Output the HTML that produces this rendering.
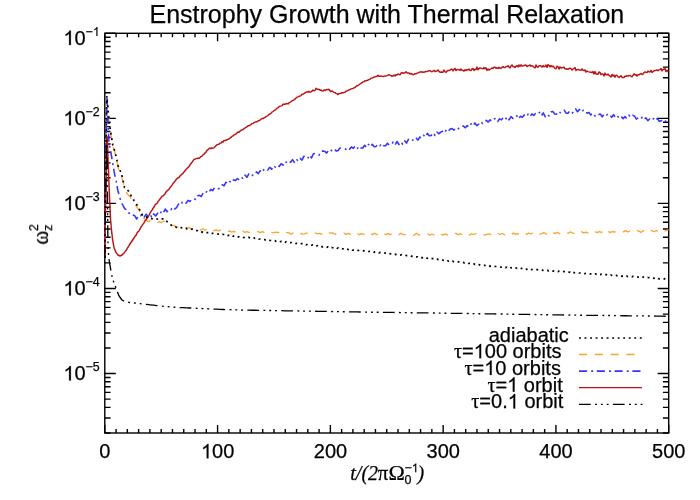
<!DOCTYPE html>
<html>
<head>
<meta charset="utf-8">
<title>Enstrophy Growth with Thermal Relaxation</title>
<style>
html, body { margin: 0; padding: 0; background: #ffffff; }
body { width: 700px; height: 500px; overflow: hidden; font-family: "Liberation Sans", sans-serif; }
svg { display: block; }
svg text { font-family: "Liberation Sans", sans-serif; fill: #000; stroke: #000; stroke-width: 0.25; }
svg .ser { font-family: "Liberation Serif", serif; }
svg .nk { font-kerning: none; }
.g1 { fill: #000; stroke: #000; stroke-width: 25; }
.ax  { fill: none; stroke: #000; stroke-width: 1.4; }
.red { fill: none; stroke: #be1212; stroke-width: 1.45; stroke-linejoin: round; }
.blu { fill: none; stroke: #3434ff; stroke-width: 1.55; stroke-linejoin: round; stroke-dasharray: 8.1 4.1 1.9 3.7; }
.ora { fill: none; stroke: #ff9f2e; stroke-width: 1.3; stroke-dasharray: 8.1 7.7; stroke-linejoin: round; }
.dot { fill: none; stroke: #000; stroke-width: 1.7; stroke-dasharray: 1.9 3.63; }
.ddd { fill: none; stroke: #000; stroke-width: 1.35; stroke-dasharray: 11.7 4.4 1.9 3.9 1.9 3.9 1.9 4.3; }
</style>
</head>
<body>
<svg width="700" height="500" viewBox="0 0 700 500">
<rect x="0" y="0" width="700" height="500" fill="#ffffff"/>
<defs><clipPath id="plot"><rect x="104.1" y="33.3" width="565.3" height="399.7"/></clipPath></defs>
<rect class="ax" x="104.80" y="33.30" width="563.90" height="399.70"/>
<path class="ax" d="M104.80 433.00 v-8.00 M104.80 33.30 v8.00 M116.08 433.00 v-4.00 M116.08 33.30 v4.00 M127.36 433.00 v-4.00 M127.36 33.30 v4.00 M138.63 433.00 v-4.00 M138.63 33.30 v4.00 M149.91 433.00 v-4.00 M149.91 33.30 v4.00 M161.19 433.00 v-4.00 M161.19 33.30 v4.00 M172.47 433.00 v-4.00 M172.47 33.30 v4.00 M183.75 433.00 v-4.00 M183.75 33.30 v4.00 M195.02 433.00 v-4.00 M195.02 33.30 v4.00 M206.30 433.00 v-4.00 M206.30 33.30 v4.00 M217.58 433.00 v-8.00 M217.58 33.30 v8.00 M228.86 433.00 v-4.00 M228.86 33.30 v4.00 M240.14 433.00 v-4.00 M240.14 33.30 v4.00 M251.41 433.00 v-4.00 M251.41 33.30 v4.00 M262.69 433.00 v-4.00 M262.69 33.30 v4.00 M273.97 433.00 v-4.00 M273.97 33.30 v4.00 M285.25 433.00 v-4.00 M285.25 33.30 v4.00 M296.53 433.00 v-4.00 M296.53 33.30 v4.00 M307.80 433.00 v-4.00 M307.80 33.30 v4.00 M319.08 433.00 v-4.00 M319.08 33.30 v4.00 M330.36 433.00 v-8.00 M330.36 33.30 v8.00 M341.64 433.00 v-4.00 M341.64 33.30 v4.00 M352.92 433.00 v-4.00 M352.92 33.30 v4.00 M364.19 433.00 v-4.00 M364.19 33.30 v4.00 M375.47 433.00 v-4.00 M375.47 33.30 v4.00 M386.75 433.00 v-4.00 M386.75 33.30 v4.00 M398.03 433.00 v-4.00 M398.03 33.30 v4.00 M409.31 433.00 v-4.00 M409.31 33.30 v4.00 M420.58 433.00 v-4.00 M420.58 33.30 v4.00 M431.86 433.00 v-4.00 M431.86 33.30 v4.00 M443.14 433.00 v-8.00 M443.14 33.30 v8.00 M454.42 433.00 v-4.00 M454.42 33.30 v4.00 M465.70 433.00 v-4.00 M465.70 33.30 v4.00 M476.97 433.00 v-4.00 M476.97 33.30 v4.00 M488.25 433.00 v-4.00 M488.25 33.30 v4.00 M499.53 433.00 v-4.00 M499.53 33.30 v4.00 M510.81 433.00 v-4.00 M510.81 33.30 v4.00 M522.09 433.00 v-4.00 M522.09 33.30 v4.00 M533.36 433.00 v-4.00 M533.36 33.30 v4.00 M544.64 433.00 v-4.00 M544.64 33.30 v4.00 M555.92 433.00 v-8.00 M555.92 33.30 v8.00 M567.20 433.00 v-4.00 M567.20 33.30 v4.00 M578.48 433.00 v-4.00 M578.48 33.30 v4.00 M589.75 433.00 v-4.00 M589.75 33.30 v4.00 M601.03 433.00 v-4.00 M601.03 33.30 v4.00 M612.31 433.00 v-4.00 M612.31 33.30 v4.00 M623.59 433.00 v-4.00 M623.59 33.30 v4.00 M634.87 433.00 v-4.00 M634.87 33.30 v4.00 M646.14 433.00 v-4.00 M646.14 33.30 v4.00 M657.42 433.00 v-4.00 M657.42 33.30 v4.00 M668.70 433.00 v-8.00 M668.70 33.30 v8.00 M104.80 433.00 h5.80 M668.70 433.00 h-5.80 M104.80 418.02 h5.80 M668.70 418.02 h-5.80 M104.80 407.39 h5.80 M668.70 407.39 h-5.80 M104.80 399.15 h5.80 M668.70 399.15 h-5.80 M104.80 392.42 h5.80 M668.70 392.42 h-5.80 M104.80 386.72 h5.80 M668.70 386.72 h-5.80 M104.80 381.79 h5.80 M668.70 381.79 h-5.80 M104.80 377.44 h5.80 M668.70 377.44 h-5.80 M104.80 373.54 h11.00 M668.70 373.54 h-11.00 M104.80 347.94 h5.80 M668.70 347.94 h-5.80 M104.80 332.96 h5.80 M668.70 332.96 h-5.80 M104.80 322.33 h5.80 M668.70 322.33 h-5.80 M104.80 314.09 h5.80 M668.70 314.09 h-5.80 M104.80 307.35 h5.80 M668.70 307.35 h-5.80 M104.80 301.66 h5.80 M668.70 301.66 h-5.80 M104.80 296.73 h5.80 M668.70 296.73 h-5.80 M104.80 292.38 h5.80 M668.70 292.38 h-5.80 M104.80 288.48 h11.00 M668.70 288.48 h-11.00 M104.80 262.88 h5.80 M668.70 262.88 h-5.80 M104.80 247.90 h5.80 M668.70 247.90 h-5.80 M104.80 237.27 h5.80 M668.70 237.27 h-5.80 M104.80 229.03 h5.80 M668.70 229.03 h-5.80 M104.80 222.29 h5.80 M668.70 222.29 h-5.80 M104.80 216.60 h5.80 M668.70 216.60 h-5.80 M104.80 211.67 h5.80 M668.70 211.67 h-5.80 M104.80 207.31 h5.80 M668.70 207.31 h-5.80 M104.80 203.42 h11.00 M668.70 203.42 h-11.00 M104.80 177.82 h5.80 M668.70 177.82 h-5.80 M104.80 162.84 h5.80 M668.70 162.84 h-5.80 M104.80 152.21 h5.80 M668.70 152.21 h-5.80 M104.80 143.97 h5.80 M668.70 143.97 h-5.80 M104.80 137.23 h5.80 M668.70 137.23 h-5.80 M104.80 131.54 h5.80 M668.70 131.54 h-5.80 M104.80 126.60 h5.80 M668.70 126.60 h-5.80 M104.80 122.25 h5.80 M668.70 122.25 h-5.80 M104.80 118.36 h11.00 M668.70 118.36 h-11.00 M104.80 92.76 h5.80 M668.70 92.76 h-5.80 M104.80 77.78 h5.80 M668.70 77.78 h-5.80 M104.80 67.15 h5.80 M668.70 67.15 h-5.80 M104.80 58.91 h5.80 M668.70 58.91 h-5.80 M104.80 52.17 h5.80 M668.70 52.17 h-5.80 M104.80 46.48 h5.80 M668.70 46.48 h-5.80 M104.80 41.54 h5.80 M668.70 41.54 h-5.80 M104.80 37.19 h5.80 M668.70 37.19 h-5.80 M104.80 33.30 h11.00 M668.70 33.30 h-11.00"/>
<g clip-path="url(#plot)">
<path class="ora" d="M104.8 258.0 L104.8 257.0 L104.8 256.0 L104.8 255.0 L104.8 254.0 L104.8 253.0 L104.9 252.0 L104.9 251.0 L104.9 250.0 L104.9 249.0 L104.9 248.0 L104.9 247.0 L104.9 246.0 L104.9 245.0 L104.9 244.0 L104.9 243.0 L104.9 242.0 L105.0 241.0 L105.0 240.0 L105.0 239.0 L105.0 238.0 L105.0 237.0 L105.0 236.0 L105.0 235.0 L105.0 234.0 L105.0 233.0 L105.0 232.0 L105.1 231.0 L105.1 230.0 L105.1 229.0 L105.1 228.0 L105.1 227.0 L105.1 226.0 L105.1 225.0 L105.1 224.0 L105.1 223.0 L105.1 222.0 L105.1 221.0 L105.2 220.0 L105.2 219.0 L105.2 218.0 L105.2 217.0 L105.2 216.0 L105.2 215.0 L105.2 214.0 L105.2 213.0 L105.2 212.0 L105.2 211.0 L105.3 210.0 L105.3 209.0 L105.3 208.0 L105.3 207.0 L105.3 206.0 L105.3 205.0 L105.3 204.0 L105.3 203.0 L105.4 202.0 L105.4 201.0 L105.4 200.0 L105.4 199.0 L105.4 198.0 L105.4 197.0 L105.4 196.0 L105.4 195.0 L105.5 194.0 L105.5 193.0 L105.5 192.0 L105.5 191.0 L105.5 190.0 L105.5 189.0 L105.5 188.0 L105.5 187.0 L105.6 186.0 L105.6 185.0 L105.6 184.0 L105.6 183.0 L105.6 182.0 L105.6 181.0 L105.6 180.0 L105.6 179.0 L105.7 178.0 L105.7 177.0 L105.7 176.0 L105.7 175.0 L105.7 174.0 L105.7 173.0 L105.7 172.0 L105.7 171.0 L105.8 170.0 L105.8 169.0 L105.8 168.0 L105.8 167.0 L105.8 166.0 L105.8 165.0 L105.8 164.0 L105.8 163.0 L105.9 162.0 L105.9 161.0 L105.9 160.0 L105.9 159.0 L105.9 158.0 L105.9 157.0 L105.9 156.0 L105.9 155.0 L106.0 154.0 L106.0 153.0 L106.0 152.0 L106.0 151.0 L106.0 150.0 L106.0 149.0 L106.0 148.0 L106.0 147.0 L106.1 146.0 L106.1 145.0 L106.1 144.0 L106.1 143.0 L106.1 142.0 L106.2 141.0 L106.2 140.0 L106.2 139.0 L106.2 138.0 L106.2 137.0 L106.2 136.0 L106.2 135.0 L106.3 134.0 L106.3 133.0 L106.3 132.0 L106.3 131.0 L106.3 130.0 L106.3 129.0 L106.4 128.0 L106.4 127.0 L106.4 126.0 L106.4 125.0 L106.4 124.0 L106.5 123.0 L106.5 122.0 L106.5 121.0 L106.5 120.0 L106.5 119.0 L106.5 118.0 L106.5 117.0 L106.6 116.0 L106.6 115.0 L106.6 114.0 L106.6 113.0 L106.6 112.0 L106.7 111.0 L106.7 110.0 L106.7 109.0 L106.7 108.0 L106.8 107.0 L106.8 106.0 L106.9 105.0 L107.0 104.0 L107.0 103.0 L107.1 102.0 L107.1 101.0 L107.2 100.0 L107.3 101.0 L107.4 102.0 L107.4 103.0 L107.5 104.0 L107.6 105.0 L107.7 106.0 L107.7 107.0 L107.8 108.0 L107.9 109.0 L108.0 110.0 L108.0 111.0 L108.1 112.0 L108.2 113.0 L108.3 114.0 L108.4 115.0 L108.5 116.0 L108.6 117.0 L108.7 118.0 L108.8 119.0 L108.9 120.0 L109.0 121.0 L109.1 122.0 L109.2 123.0 L109.3 124.0 L109.4 125.0 L109.5 126.0 L109.7 127.0 L109.8 128.0 L110.0 129.0 L110.1 130.0 L110.2 131.0 L110.4 132.0 L110.5 133.0 L110.7 134.0 L110.8 135.0 L111.0 136.0 L111.2 137.0 L111.3 138.0 L111.5 139.0 L111.7 140.0 L111.8 141.0 L112.0 142.0 L112.2 143.0 L112.3 144.0 L112.5 145.0 L112.8 146.0 L113.1 147.0 L113.4 148.0 L113.8 149.0 L114.1 150.0 L114.4 151.0 L114.7 152.0 L115.0 153.0 L115.2 154.0 L115.4 155.0 L115.7 156.0 L115.9 157.0 L116.1 158.0 L116.3 159.0 L116.6 160.0 L116.8 161.0 L117.0 162.0 L117.2 163.0 L117.4 164.0 L117.6 165.0 L117.9 166.0 L118.1 167.0 L118.3 168.0 L118.5 169.0 L119.0 169.9 L119.5 170.8 L120.0 171.6 L120.5 172.5 L120.8 173.6 L121.1 174.6 L121.4 175.7 L121.6 176.8 L121.9 177.9 L122.2 178.9 L122.5 180.0 L122.8 181.1 L123.1 182.1 L123.4 183.2 L123.6 184.3 L123.9 185.4 L124.2 186.4 L124.5 187.5 L124.9 188.5 L125.3 189.5 L125.8 190.5 L126.2 191.5 L126.6 192.5 L127.0 193.5 L127.7 194.3 L128.4 195.1 L129.1 195.9 L129.8 196.7 L130.5 197.5 L132.7 200.9 L134.9 204.3 L137.1 207.4 L139.3 210.6 L141.5 216.1 L143.7 218.2 L145.9 219.9 L148.1 221.6 L150.3 220.9 L152.5 222.5 L154.7 222.0 L156.9 222.8 L159.1 221.6 L161.3 222.5 L163.5 221.2 L165.7 221.7 L167.9 223.5 L170.1 223.6 L172.3 225.4 L174.5 225.4 L176.7 227.4 L178.9 226.7 L181.1 226.7 L183.3 226.9 L185.5 228.4 L187.7 227.3 L189.9 227.9 L192.1 229.4 L194.3 228.7 L196.5 229.6 L198.7 228.6 L200.9 230.0 L203.1 228.8 L205.3 230.2 L207.5 229.2 L209.7 230.8 L211.9 229.5 L214.1 230.8 L216.3 229.9 L218.5 230.9 L220.7 230.2 L222.9 231.2 L225.1 230.6 L227.3 231.6 L229.5 231.0 L231.7 232.1 L233.9 231.3 L236.1 232.3 L238.3 231.5 L240.5 232.5 L242.7 231.1 L244.9 232.3 L247.1 231.6 L249.3 232.5 L251.5 231.7 L253.7 232.5 L255.9 231.5 L258.1 231.7 L260.3 232.7 L262.5 231.6 L264.7 232.7 L266.9 231.5 L269.1 232.8 L271.3 232.3 L273.5 233.0 L275.7 232.1 L277.9 232.5 L280.1 232.4 L282.3 234.0 L284.5 233.4 L286.7 232.5 L288.9 232.9 L291.1 234.2 L293.3 232.8 L295.5 234.1 L297.7 233.8 L299.9 232.6 L302.1 234.1 L304.3 233.9 L306.5 233.0 L308.7 234.0 L310.9 233.1 L313.1 234.2 L315.3 233.0 L317.5 233.9 L319.7 233.3 L321.9 234.4 L324.1 233.3 L326.3 234.5 L328.5 232.8 L330.7 233.2 L332.9 233.0 L335.1 234.3 L337.3 233.3 L339.5 233.5 L341.7 234.2 L343.9 233.2 L346.1 234.3 L348.3 233.3 L350.5 234.3 L352.7 233.1 L354.9 234.7 L357.1 233.2 L359.3 234.8 L361.5 233.6 L363.7 234.3 L365.9 233.6 L368.1 234.9 L370.3 233.1 L372.5 234.6 L374.7 233.2 L376.9 234.7 L379.1 233.1 L381.3 234.7 L383.5 233.6 L385.7 234.7 L387.9 233.6 L390.1 234.6 L392.3 233.7 L394.5 234.6 L396.7 233.3 L398.9 234.6 L401.1 233.3 L403.3 234.6 L405.5 234.6 L407.7 233.7 L409.9 234.5 L412.1 234.9 L414.3 235.1 L416.5 233.3 L418.7 234.8 L420.9 235.1 L423.1 234.8 L425.3 233.7 L427.5 233.4 L429.7 235.2 L431.9 234.0 L434.1 234.8 L436.3 233.6 L438.5 235.2 L440.7 233.8 L442.9 235.2 L445.1 233.9 L447.3 234.8 L449.5 234.0 L451.7 235.1 L453.9 233.4 L456.1 233.4 L458.3 234.7 L460.5 233.7 L462.7 234.9 L464.9 233.4 L467.1 234.8 L469.3 235.1 L471.5 233.8 L473.7 234.5 L475.9 233.6 L478.1 234.6 L480.3 233.8 L482.5 234.8 L484.7 235.0 L486.9 234.4 L489.1 233.8 L491.3 234.6 L493.5 233.4 L495.7 234.6 L497.9 233.2 L500.1 234.5 L502.3 233.5 L504.5 234.8 L506.7 234.8 L508.9 233.6 L511.1 234.8 L513.3 233.1 L515.5 234.4 L517.7 233.6 L519.9 234.7 L522.1 234.4 L524.3 232.8 L526.5 234.4 L528.7 233.0 L530.9 234.0 L533.1 232.6 L535.3 234.1 L537.5 232.9 L539.7 234.0 L541.9 233.7 L544.1 232.7 L546.3 234.1 L548.5 232.3 L550.7 233.5 L552.9 232.5 L555.1 233.6 L557.3 232.2 L559.5 233.7 L561.7 232.3 L563.9 232.0 L566.1 233.3 L568.3 233.2 L570.5 231.9 L572.7 233.2 L574.9 233.6 L577.1 232.1 L579.3 233.0 L581.5 231.6 L583.7 233.0 L585.9 232.1 L588.1 233.2 L590.3 231.7 L592.5 232.6 L594.7 231.3 L596.9 232.7 L599.1 231.7 L601.3 232.4 L603.5 231.1 L605.7 232.9 L607.9 231.0 L610.1 232.6 L612.3 231.5 L614.5 232.1 L616.7 230.8 L618.9 231.3 L621.1 230.9 L623.3 231.9 L625.5 230.6 L627.7 231.9 L629.9 231.2 L632.1 232.4 L634.3 231.1 L636.5 230.5 L638.7 231.0 L640.9 232.4 L643.1 230.7 L645.3 231.7 L647.5 230.5 L649.7 231.9 L651.9 230.5 L654.1 231.7 L656.3 230.5 L658.5 231.8 L660.7 230.3 L662.9 229.8 L665.1 231.0 L667.3 230.1 L668.6 229.8"/>
<path class="blu" d="M104.8 258.0 L104.8 257.0 L104.8 256.0 L104.8 255.0 L104.8 254.0 L104.8 253.0 L104.9 252.0 L104.9 251.0 L104.9 250.0 L104.9 249.0 L104.9 248.0 L104.9 247.0 L104.9 246.0 L104.9 245.0 L104.9 244.0 L104.9 243.0 L104.9 242.0 L105.0 241.0 L105.0 240.0 L105.0 239.0 L105.0 238.0 L105.0 237.0 L105.0 236.0 L105.0 235.0 L105.0 234.0 L105.0 233.0 L105.0 232.0 L105.1 231.0 L105.1 230.0 L105.1 229.0 L105.1 228.0 L105.1 227.0 L105.1 226.0 L105.1 225.0 L105.1 224.0 L105.1 223.0 L105.1 222.0 L105.1 221.0 L105.2 220.0 L105.2 219.0 L105.2 218.0 L105.2 217.0 L105.2 216.0 L105.2 215.0 L105.2 214.0 L105.2 213.0 L105.2 212.0 L105.2 211.0 L105.3 210.0 L105.3 209.0 L105.3 208.0 L105.3 207.0 L105.3 206.0 L105.3 205.0 L105.3 204.0 L105.3 203.0 L105.4 202.0 L105.4 201.0 L105.4 200.0 L105.4 199.0 L105.4 198.0 L105.4 197.0 L105.4 196.0 L105.4 195.0 L105.5 194.0 L105.5 193.0 L105.5 192.0 L105.5 191.0 L105.5 190.0 L105.5 189.0 L105.5 188.0 L105.5 187.0 L105.6 186.0 L105.6 185.0 L105.6 184.0 L105.6 183.0 L105.6 182.0 L105.6 181.0 L105.6 180.0 L105.6 179.0 L105.7 178.0 L105.7 177.0 L105.7 176.0 L105.7 175.0 L105.7 174.0 L105.7 173.0 L105.7 172.0 L105.7 171.0 L105.8 170.0 L105.8 169.0 L105.8 168.0 L105.8 167.0 L105.8 166.0 L105.8 165.0 L105.8 164.0 L105.8 163.0 L105.9 162.0 L105.9 161.0 L105.9 160.0 L105.9 159.0 L105.9 158.0 L105.9 157.0 L105.9 156.0 L105.9 155.0 L106.0 154.0 L106.0 153.0 L106.0 152.0 L106.0 151.0 L106.0 150.0 L106.0 149.0 L106.0 148.0 L106.0 147.0 L106.1 146.0 L106.1 145.0 L106.1 144.0 L106.1 143.0 L106.1 142.0 L106.1 141.0 L106.1 140.0 L106.2 139.0 L106.2 138.0 L106.2 137.0 L106.2 136.0 L106.2 135.0 L106.2 134.0 L106.2 133.0 L106.2 132.0 L106.3 131.0 L106.3 130.0 L106.3 129.0 L106.3 128.0 L106.3 127.0 L106.3 126.0 L106.3 125.0 L106.4 124.0 L106.4 123.0 L106.4 122.0 L106.4 121.0 L106.4 120.0 L106.4 119.0 L106.4 118.0 L106.4 117.0 L106.5 116.0 L106.5 115.0 L106.5 114.0 L106.5 113.0 L106.5 112.0 L106.5 111.0 L106.5 110.0 L106.6 109.0 L106.6 108.0 L106.6 107.0 L106.6 106.0 L106.6 105.0 L106.7 104.0 L106.8 103.0 L106.8 102.0 L106.8 101.0 L106.9 100.0 L107.0 99.0 L107.0 98.0 L107.0 99.0 L107.1 100.0 L107.1 101.0 L107.2 102.0 L107.2 103.0 L107.3 104.0 L107.3 105.0 L107.3 106.0 L107.4 107.0 L107.4 108.0 L107.5 109.0 L107.5 110.0 L107.6 111.0 L107.6 112.0 L107.6 113.0 L107.7 114.0 L107.7 115.0 L107.8 116.0 L107.8 117.0 L107.9 118.0 L107.9 119.0 L107.9 120.0 L108.0 121.0 L108.0 122.0 L108.1 123.0 L108.1 124.0 L108.2 125.0 L108.2 126.0 L108.3 127.0 L108.3 128.0 L108.3 129.0 L108.4 130.0 L108.4 131.0 L108.5 132.0 L108.5 133.0 L108.6 134.0 L108.6 135.0 L108.7 136.0 L108.7 137.0 L108.8 138.0 L108.8 139.0 L108.9 140.0 L108.9 141.0 L109.0 142.0 L109.0 143.0 L109.2 144.0 L109.4 145.0 L109.6 146.0 L109.9 147.0 L110.1 148.0 L110.3 149.0 L110.5 150.0 L110.7 151.0 L110.8 152.0 L111.0 153.0 L111.2 154.0 L111.3 155.0 L111.5 156.0 L111.7 157.0 L111.8 158.0 L112.0 159.0 L112.2 160.0 L112.3 161.0 L112.5 162.0 L112.7 163.0 L112.8 164.0 L113.0 165.0 L113.2 166.1 L113.4 167.1 L113.6 168.2 L113.8 169.2 L113.9 170.3 L114.1 171.4 L114.3 172.4 L114.5 173.5 L114.7 174.6 L114.9 175.6 L115.2 176.7 L115.4 177.7 L115.6 178.8 L115.8 179.8 L116.1 180.9 L116.3 181.9 L116.5 183.0 L116.7 184.0 L116.9 185.0 L117.1 186.0 L117.2 187.0 L117.4 188.0 L117.6 189.0 L117.8 190.0 L118.0 191.0 L118.3 192.0 L118.6 193.0 L118.8 194.0 L119.1 195.0 L119.4 196.0 L119.7 197.0 L119.9 198.0 L120.2 199.0 L120.5 200.0 L120.9 200.9 L121.4 201.9 L121.8 202.8 L122.2 203.8 L122.7 204.7 L123.1 205.6 L123.6 206.6 L124.0 207.5 L124.7 208.4 L125.4 209.3 L126.1 209.5 L126.8 211.6 L127.5 211.7 L128.4 213.0 L129.2 212.9 L130.1 214.4 L131.0 215.2 L132.9 215.0 L134.8 215.8 L136.7 219.0 L138.6 215.0 L140.5 215.8 L142.4 214.0 L144.3 217.0 L146.2 214.1 L148.1 216.6 L150.0 214.0 L151.9 217.7 L153.8 213.9 L155.7 216.0 L157.6 213.3 L159.5 215.2 L161.4 211.2 L163.3 212.9 L165.2 209.0 L167.1 211.7 L169.0 208.9 L170.9 209.8 L172.8 206.9 L174.7 209.0 L176.6 207.7 L178.5 204.0 L180.4 205.7 L182.3 202.2 L184.2 201.3 L186.1 203.2 L188.0 200.4 L189.9 201.5 L191.8 199.0 L193.7 198.2 L195.6 199.5 L197.5 195.9 L199.4 195.3 L201.3 196.5 L203.2 192.8 L205.1 193.9 L207.0 191.1 L208.9 192.5 L210.8 189.3 L212.7 190.7 L214.6 187.6 L216.5 187.3 L218.4 188.8 L220.3 188.0 L222.2 184.8 L224.1 185.8 L226.0 182.2 L227.9 184.2 L229.8 181.5 L231.7 182.7 L233.6 179.7 L235.5 180.6 L237.4 178.5 L239.3 179.9 L241.2 177.1 L243.1 178.8 L245.0 175.0 L246.9 177.3 L248.8 173.9 L250.7 172.6 L252.6 175.5 L254.5 175.0 L256.4 171.9 L258.3 173.6 L260.2 170.8 L262.1 172.9 L264.0 169.5 L265.9 168.7 L267.8 170.1 L269.7 167.3 L271.6 169.3 L273.5 165.3 L275.4 167.3 L277.3 165.1 L279.2 166.5 L281.1 163.7 L283.0 165.2 L284.9 161.1 L286.8 162.5 L288.7 160.8 L290.6 162.3 L292.5 159.6 L294.4 162.5 L296.3 159.0 L298.2 161.2 L300.1 158.4 L302.0 160.1 L303.9 156.2 L305.8 158.6 L307.7 158.5 L309.6 155.0 L311.5 158.0 L313.4 153.8 L315.3 153.5 L317.2 153.5 L319.1 155.1 L321.0 151.3 L322.9 150.9 L324.8 151.4 L326.7 153.1 L328.6 150.1 L330.5 151.7 L332.4 149.3 L334.3 148.7 L336.2 151.1 L338.1 150.5 L340.0 148.0 L341.9 148.2 L343.8 148.3 L345.7 149.3 L347.6 147.6 L349.5 149.2 L351.4 146.9 L353.3 148.3 L355.2 146.2 L357.1 149.1 L359.0 146.0 L360.9 147.9 L362.8 148.0 L364.7 145.2 L366.6 147.9 L368.5 144.4 L370.4 146.9 L372.3 144.3 L374.2 146.7 L376.1 146.4 L378.0 143.9 L379.9 145.8 L381.8 143.5 L383.7 145.8 L385.6 145.7 L387.5 143.2 L389.4 145.4 L391.3 144.8 L393.2 141.9 L395.1 144.8 L397.0 141.5 L398.9 144.5 L400.8 141.5 L402.7 144.2 L404.6 140.7 L406.5 143.1 L408.4 139.4 L410.3 139.6 L412.2 141.3 L414.1 137.5 L416.0 137.9 L417.9 140.1 L419.8 137.0 L421.7 138.4 L423.6 135.2 L425.5 137.1 L427.4 133.4 L429.3 135.8 L431.2 135.6 L433.1 132.5 L435.0 135.5 L436.9 132.0 L438.8 133.8 L440.7 132.1 L442.6 131.2 L444.5 133.3 L446.4 129.5 L448.3 131.3 L450.2 129.0 L452.1 128.6 L454.0 130.1 L455.9 127.9 L457.8 129.4 L459.7 127.2 L461.6 126.2 L463.5 126.1 L465.4 127.8 L467.3 125.6 L469.2 127.5 L471.1 123.8 L473.0 125.8 L474.9 123.0 L476.8 125.6 L478.7 124.1 L480.6 121.2 L482.5 123.4 L484.4 121.2 L486.3 120.4 L488.2 122.1 L490.1 119.8 L492.0 121.5 L493.9 118.9 L495.8 118.5 L497.7 121.6 L499.6 118.8 L501.5 119.9 L503.4 117.4 L505.3 119.6 L507.2 116.7 L509.1 119.9 L511.0 116.6 L512.9 118.4 L514.8 118.3 L516.7 115.6 L518.6 119.0 L520.5 116.2 L522.4 117.3 L524.3 115.1 L526.2 117.1 L528.1 114.1 L530.0 116.7 L531.9 113.8 L533.8 115.5 L535.7 113.1 L537.6 114.5 L539.5 112.4 L541.4 115.9 L543.3 112.8 L545.2 116.7 L547.1 114.0 L549.0 115.9 L550.9 111.9 L552.8 111.4 L554.7 114.0 L556.6 114.2 L558.5 111.1 L560.4 112.8 L562.3 110.4 L564.2 110.2 L566.1 113.2 L568.0 113.2 L569.9 110.9 L571.8 113.4 L573.7 112.0 L575.6 108.8 L577.5 111.8 L579.4 109.4 L581.3 112.4 L583.2 110.2 L585.1 110.1 L587.0 113.2 L588.9 112.4 L590.8 115.0 L592.7 112.8 L594.6 115.8 L596.5 116.7 L598.4 114.8 L600.3 114.0 L602.2 116.9 L604.1 114.1 L606.0 116.0 L607.9 113.7 L609.8 114.7 L611.7 117.3 L613.6 114.6 L615.5 118.0 L617.4 115.9 L619.3 118.1 L621.2 116.4 L623.1 118.7 L625.0 116.6 L626.9 118.6 L628.8 115.1 L630.7 117.2 L632.6 115.2 L634.5 116.1 L636.4 119.2 L638.3 117.6 L640.2 119.3 L642.1 117.3 L644.0 119.8 L645.9 117.7 L647.8 120.6 L649.7 119.0 L651.6 120.8 L653.5 118.6 L655.4 120.7 L657.3 118.4 L659.2 121.4 L661.1 120.8 L663.0 119.3 L664.9 121.8 L666.8 119.8 L668.6 121.6"/>
<path class="red" d="M104.8 258.0 L104.8 257.0 L104.8 256.0 L104.8 255.0 L104.8 254.0 L104.9 253.0 L104.9 252.0 L104.9 251.0 L104.9 250.0 L104.9 249.0 L104.9 248.0 L104.9 247.0 L104.9 246.0 L104.9 245.0 L104.9 244.0 L105.0 243.0 L105.0 242.0 L105.0 241.0 L105.0 240.0 L105.0 239.0 L105.0 238.0 L105.0 237.0 L105.0 236.0 L105.0 235.0 L105.1 234.0 L105.1 233.0 L105.1 232.0 L105.1 231.0 L105.1 230.0 L105.1 229.0 L105.1 228.0 L105.1 227.0 L105.1 226.0 L105.1 225.0 L105.2 224.0 L105.2 223.0 L105.2 222.0 L105.2 221.0 L105.2 220.0 L105.2 219.0 L105.2 218.0 L105.3 217.0 L105.3 216.0 L105.3 215.0 L105.3 214.0 L105.4 213.0 L105.4 212.0 L105.4 211.0 L105.4 210.0 L105.4 209.0 L105.5 208.0 L105.5 207.0 L105.5 206.0 L105.5 205.0 L105.6 204.0 L105.6 203.0 L105.6 202.0 L105.6 201.0 L105.6 200.0 L105.7 199.0 L105.7 198.0 L105.7 197.0 L105.7 196.0 L105.8 195.0 L105.8 194.0 L105.8 193.0 L105.8 192.0 L105.8 191.0 L105.9 190.0 L105.9 189.0 L105.9 188.0 L105.9 187.0 L106.0 186.0 L106.0 185.0 L106.0 184.0 L106.0 183.0 L106.0 182.0 L106.1 181.0 L106.1 180.0 L106.1 179.0 L106.1 178.0 L106.2 177.0 L106.2 176.0 L106.2 175.0 L106.2 174.0 L106.2 173.0 L106.3 172.0 L106.3 171.0 L106.3 170.0 L106.3 169.0 L106.3 168.0 L106.3 167.0 L106.4 166.0 L106.4 165.0 L106.4 164.0 L106.4 163.0 L106.4 162.0 L106.5 161.0 L106.5 160.0 L106.5 159.0 L106.5 158.0 L106.5 157.0 L106.6 156.0 L106.6 155.0 L106.6 154.0 L106.6 153.0 L106.6 152.0 L106.6 151.0 L106.7 150.0 L106.7 149.0 L106.7 148.0 L106.7 147.0 L106.7 146.0 L106.8 145.0 L106.8 144.0 L106.8 143.0 L106.8 142.0 L106.8 141.0 L106.8 140.0 L106.9 139.0 L106.9 138.0 L106.9 137.0 L107.3 138.0 L107.3 139.0 L107.4 140.0 L107.4 141.0 L107.5 142.0 L107.5 143.0 L107.6 144.0 L107.6 145.0 L107.7 146.0 L107.7 147.0 L107.7 148.0 L107.7 149.0 L107.8 150.0 L107.8 151.0 L107.8 152.0 L107.8 153.0 L107.9 154.0 L107.9 155.0 L107.9 156.0 L107.9 157.0 L108.0 158.0 L108.0 159.0 L108.0 160.0 L108.0 161.0 L108.1 162.0 L108.2 163.0 L108.2 164.0 L108.2 165.0 L108.3 166.0 L108.3 167.0 L108.4 168.0 L108.5 169.0 L108.5 170.0 L108.5 171.0 L108.6 172.0 L108.6 173.0 L108.6 174.0 L108.7 175.0 L108.7 176.0 L108.7 177.0 L108.8 178.0 L108.8 179.0 L108.8 180.0 L108.9 181.0 L108.9 182.0 L109.0 183.0 L109.0 184.0 L109.0 185.0 L109.1 186.0 L109.1 187.0 L109.1 188.0 L109.2 189.0 L109.2 190.0 L109.2 191.0 L109.3 192.0 L109.3 193.0 L109.4 194.0 L109.4 195.0 L109.5 196.0 L109.5 197.0 L109.6 198.0 L109.6 199.0 L109.6 200.0 L109.7 201.0 L109.7 202.0 L109.8 203.0 L109.8 204.0 L109.9 205.0 L109.9 206.0 L110.0 207.0 L110.0 208.0 L110.0 209.0 L110.1 210.0 L110.2 211.0 L110.2 212.0 L110.2 213.0 L110.3 214.0 L110.3 215.0 L110.4 216.0 L110.4 217.0 L110.5 218.0 L110.5 219.0 L110.6 220.0 L110.7 221.0 L110.8 222.0 L110.9 223.0 L111.0 224.0 L111.0 225.0 L111.1 226.0 L111.2 227.0 L111.3 228.0 L111.4 229.0 L111.5 230.0 L111.6 231.0 L111.7 232.0 L111.8 233.0 L111.9 234.0 L112.1 235.0 L112.2 236.0 L112.3 237.0 L112.4 238.0 L112.5 239.0 L112.7 240.1 L112.9 241.1 L113.1 242.2 L113.2 243.2 L113.4 244.3 L113.6 245.4 L113.8 246.4 L114.0 247.5 L114.4 248.5 L114.8 249.5 L115.2 250.5 L115.6 251.5 L116.0 252.5 L116.7 253.3 L117.3 254.2 L118.0 255.0 L119.0 255.5 L120.0 256.0 L121.0 255.5 L122.0 255.0 L123.0 254.0 L124.0 253.0 L124.7 252.2 L125.3 251.3 L126.0 250.5 L126.6 249.6 L127.1 248.6 L127.7 247.7 L128.3 246.8 L128.9 245.9 L129.4 244.9 L130.0 244.0 L131.0 242.5 L132.0 241.0 L133.0 239.5 L134.0 238.0 L135.0 236.1 L136.0 235.4 L137.0 233.0 L138.0 231.8 L139.0 231.0 L140.0 229.0 L141.0 227.1 L142.0 225.6 L143.0 224.1 L144.0 222.9 L145.0 220.8 L146.0 220.0 L147.0 217.9 L148.0 216.9 L149.0 215.3 L150.0 213.2 L151.0 211.5 L152.0 210.1 L153.0 208.2 L154.0 207.1 L155.0 205.2 L156.0 203.8 L157.0 203.5 L158.0 201.5 L159.0 200.4 L160.0 199.0 L161.0 197.8 L162.0 196.3 L163.0 196.0 L164.0 195.0 L165.0 193.9 L166.0 191.9 L167.0 190.9 L168.0 190.1 L169.0 189.3 L170.0 187.5 L171.0 186.4 L172.0 185.1 L173.0 183.6 L174.0 182.5 L175.0 181.1 L176.0 179.8 L177.0 178.6 L178.0 177.9 L179.0 177.5 L180.0 176.0 L181.0 175.1 L182.0 174.1 L183.0 173.4 L184.0 172.0 L185.0 170.7 L186.0 169.6 L187.0 168.4 L188.0 167.6 L189.0 166.5 L190.0 164.9 L191.0 163.5 L192.0 162.3 L193.0 160.9 L194.0 159.5 L195.0 159.1 L196.0 158.5 L197.0 158.6 L198.0 158.1 L199.0 158.3 L200.0 157.6 L201.0 156.6 L202.0 156.1 L203.0 154.9 L204.0 154.2 L205.0 152.9 L206.0 152.1 L207.0 150.4 L208.0 149.6 L209.0 148.7 L210.0 148.0 L211.0 148.7 L212.0 147.8 L213.0 148.2 L214.0 147.8 L215.0 146.8 L216.0 145.7 L217.0 144.7 L218.0 144.4 L219.0 144.2 L220.0 143.1 L221.0 143.1 L222.0 141.8 L223.0 142.0 L224.0 140.5 L225.0 140.4 L226.0 140.4 L227.0 139.7 L228.0 139.4 L229.0 138.8 L230.0 138.2 L231.0 137.4 L232.0 136.3 L233.0 135.9 L234.0 134.9 L235.0 134.6 L236.0 133.9 L237.0 132.9 L238.0 132.0 L239.0 132.2 L240.0 131.3 L241.0 130.4 L242.0 129.8 L243.0 129.6 L244.0 128.7 L245.0 128.0 L246.0 127.4 L247.0 126.7 L248.0 125.8 L249.0 125.8 L250.0 125.1 L251.0 124.6 L252.0 123.6 L253.0 123.4 L254.0 122.7 L255.0 122.2 L256.0 121.8 L257.0 121.8 L258.0 121.0 L259.0 120.5 L260.0 120.1 L261.0 119.3 L262.0 118.5 L263.0 118.5 L264.0 118.0 L265.0 117.4 L266.0 116.6 L267.0 116.1 L268.0 115.5 L269.0 114.5 L270.0 114.0 L271.0 113.2 L272.0 112.1 L273.0 111.5 L274.0 110.7 L275.0 110.2 L276.0 109.4 L277.0 108.2 L278.0 107.8 L279.0 106.7 L280.0 106.1 L281.0 105.9 L282.0 105.6 L283.0 104.3 L284.0 104.2 L285.0 104.3 L286.0 103.7 L287.0 103.8 L288.0 103.9 L289.0 102.8 L290.0 102.3 L291.0 101.7 L292.0 100.8 L293.0 100.4 L294.0 99.8 L295.0 99.2 L296.0 98.0 L297.0 97.2 L298.0 96.8 L299.0 96.3 L300.0 96.0 L301.0 95.6 L302.0 94.3 L303.0 94.2 L304.0 93.6 L305.0 92.8 L306.0 92.2 L307.0 91.8 L308.0 92.1 L309.0 91.4 L310.0 92.2 L311.0 91.9 L312.0 91.2 L313.0 90.1 L314.0 90.8 L315.0 90.3 L316.0 88.3 L317.0 89.2 L318.0 89.1 L319.0 89.4 L320.0 90.3 L321.0 90.0 L322.0 90.9 L323.0 91.1 L324.0 89.9 L325.0 90.5 L326.0 90.0 L327.0 89.4 L328.0 89.8 L329.0 89.2 L330.0 90.9 L331.0 91.6 L332.0 90.9 L333.0 91.8 L334.0 92.4 L335.0 92.6 L336.0 93.3 L337.0 93.7 L338.0 94.6 L339.0 93.6 L340.0 93.5 L341.0 93.4 L342.0 92.6 L343.0 92.8 L344.0 92.4 L345.0 92.2 L346.0 91.2 L347.0 90.8 L348.0 90.5 L349.0 89.9 L350.0 89.5 L351.0 88.9 L352.0 88.7 L353.0 88.3 L354.0 87.8 L355.0 87.5 L356.0 86.4 L357.0 85.8 L358.0 85.5 L359.0 84.8 L360.0 84.0 L361.0 83.4 L362.0 82.7 L363.0 81.9 L364.0 81.8 L365.0 80.8 L366.0 80.9 L367.0 80.3 L368.0 80.2 L369.0 79.5 L370.0 79.4 L371.0 78.1 L372.0 78.0 L373.0 77.7 L374.0 77.0 L375.0 77.0 L376.0 76.4 L377.0 76.5 L378.0 75.2 L379.0 76.3 L380.0 76.3 L381.0 75.9 L382.0 76.1 L383.0 76.6 L384.0 76.3 L385.0 75.9 L386.0 76.1 L387.0 75.7 L388.0 75.2 L389.0 74.5 L390.0 75.3 L391.0 75.7 L392.0 76.4 L393.0 76.0 L394.0 75.1 L395.0 76.1 L396.0 74.6 L397.0 75.0 L398.0 74.0 L399.0 74.3 L400.0 74.8 L401.0 73.2 L402.0 72.6 L403.0 73.3 L404.0 73.0 L405.0 72.8 L406.0 71.7 L407.0 72.9 L408.0 72.9 L409.0 72.9 L410.0 74.0 L411.0 73.5 L412.0 74.0 L413.0 74.7 L414.0 74.4 L415.0 73.7 L416.0 73.8 L417.0 73.2 L418.0 72.9 L419.0 72.5 L420.0 71.9 L421.0 72.0 L422.0 71.8 L423.0 72.5 L424.0 71.9 L425.0 71.9 L426.0 71.5 L427.0 71.6 L428.0 71.1 L429.0 70.8 L430.0 70.6 L431.0 71.3 L432.0 71.8 L433.0 71.0 L434.0 70.3 L435.0 71.7 L436.0 71.0 L437.0 71.0 L438.0 69.9 L439.0 71.4 L440.0 72.2 L441.0 72.0 L442.0 72.2 L443.0 72.3 L444.0 70.1 L445.0 71.4 L446.0 72.4 L447.0 71.1 L448.0 70.4 L449.0 70.6 L450.0 70.1 L451.0 69.2 L452.0 69.2 L453.0 71.0 L454.0 69.3 L455.0 68.4 L456.0 70.6 L457.0 69.7 L458.0 69.4 L459.0 69.7 L460.0 70.3 L461.0 69.0 L462.0 70.3 L463.0 70.5 L464.0 71.0 L465.0 69.8 L466.0 70.6 L467.0 69.6 L468.0 70.1 L469.0 69.0 L470.0 70.4 L471.0 70.6 L472.0 69.0 L473.0 68.5 L474.0 70.5 L475.0 69.3 L476.0 69.7 L477.0 67.1 L478.0 69.7 L479.0 68.6 L480.0 67.9 L481.0 68.1 L482.0 68.6 L483.0 68.9 L484.0 67.5 L485.0 68.7 L486.0 67.8 L487.0 70.4 L488.0 68.9 L489.0 70.1 L490.0 69.2 L491.0 68.8 L492.0 68.0 L493.0 68.4 L494.0 67.2 L495.0 67.1 L496.0 68.4 L497.0 67.7 L498.0 68.5 L499.0 67.3 L500.0 68.3 L501.0 68.3 L502.0 67.4 L503.0 66.6 L504.0 67.5 L505.0 67.6 L506.0 66.4 L507.0 66.6 L508.0 65.8 L509.0 67.1 L510.0 67.9 L511.0 65.9 L512.0 64.9 L513.0 66.6 L514.0 66.8 L515.0 67.5 L516.0 66.2 L517.0 65.7 L518.0 66.9 L519.0 64.9 L520.0 66.4 L521.0 64.8 L522.0 65.9 L523.0 65.9 L524.0 65.7 L525.0 65.0 L526.0 65.2 L527.0 66.6 L528.0 65.7 L529.0 65.7 L530.0 64.9 L531.0 66.2 L532.0 65.6 L533.0 66.1 L534.0 67.4 L535.0 67.9 L536.0 64.9 L537.0 67.0 L538.0 67.2 L539.0 65.8 L540.0 65.8 L541.0 66.0 L542.0 67.1 L543.0 65.6 L544.0 66.7 L545.0 66.4 L546.0 65.0 L547.0 67.4 L548.0 64.6 L549.0 65.5 L550.0 66.9 L551.0 65.4 L552.0 66.8 L553.0 66.0 L554.0 67.2 L555.0 68.4 L556.0 68.8 L557.0 66.3 L558.0 66.6 L559.0 69.1 L560.0 66.9 L561.0 68.1 L562.0 67.7 L563.0 67.5 L564.0 67.1 L565.0 68.8 L566.0 69.0 L567.0 68.8 L568.0 69.3 L569.0 68.6 L570.0 68.0 L571.0 68.6 L572.0 70.1 L573.0 69.0 L574.0 68.3 L575.0 67.7 L576.0 70.6 L577.0 69.6 L578.0 69.4 L579.0 70.0 L580.0 70.1 L581.0 70.2 L582.0 68.9 L583.0 70.2 L584.0 70.5 L585.0 70.0 L586.0 72.1 L587.0 71.0 L588.0 71.6 L589.0 71.9 L590.0 72.1 L591.0 72.3 L592.0 72.6 L593.0 71.6 L594.0 74.0 L595.0 71.6 L596.0 74.1 L597.0 74.0 L598.0 74.2 L599.0 72.0 L600.0 72.4 L601.0 74.6 L602.0 74.0 L603.0 74.0 L604.0 76.0 L605.0 73.1 L606.0 74.8 L607.0 74.9 L608.0 74.1 L609.0 75.3 L610.0 76.0 L611.0 76.9 L612.0 74.4 L613.0 76.1 L614.0 75.1 L615.0 77.2 L616.0 75.4 L617.0 75.3 L618.0 76.8 L619.0 77.4 L620.0 76.5 L621.0 75.7 L622.0 77.4 L623.0 77.4 L624.0 77.5 L625.0 76.1 L626.0 76.3 L627.0 75.6 L628.0 76.1 L629.0 75.6 L630.0 75.4 L631.0 76.2 L632.0 76.8 L633.0 75.3 L634.0 73.8 L635.0 75.1 L636.0 74.6 L637.0 76.0 L638.0 74.7 L639.0 74.9 L640.0 74.2 L641.0 73.6 L642.0 74.6 L643.0 74.1 L644.0 72.6 L645.0 71.9 L646.0 72.5 L647.0 72.5 L648.0 71.1 L649.0 71.9 L650.0 72.0 L651.0 70.3 L652.0 72.4 L653.0 71.6 L654.0 70.7 L655.0 70.5 L656.0 70.4 L657.0 70.0 L658.0 70.7 L659.0 69.9 L660.0 69.6 L661.0 68.6 L662.0 70.9 L663.0 69.3 L664.0 69.3 L665.0 68.5 L666.0 71.6 L667.0 70.2 L668.0 71.7 L668.6 71.9"/>
<path class="ddd" d="M104.8 258.0 L104.8 254.8 L104.9 251.7 L104.9 248.5 L104.9 245.3 L105.0 242.2 L105.0 239.0 L105.0 235.8 L105.1 232.7 L105.1 229.5 L105.1 226.3 L105.2 223.2 L105.2 220.0 L105.3 217.0 L105.3 214.0 L105.4 211.0 L105.4 208.0 L105.5 205.0 L105.5 202.0 L105.6 199.0 L105.6 196.0 L105.7 193.0 L105.7 190.0 L105.8 187.0 L105.8 184.0 L105.9 181.0 L105.9 178.0 L106.0 175.0 L106.1 171.8 L106.1 168.6 L106.2 165.5 L106.2 162.3 L106.3 159.1 L106.3 155.9 L106.4 152.7 L106.4 149.5 L106.5 146.4 L106.5 143.2 L106.6 140.0 L107.0 142.0 L107.0 145.0 L107.0 148.0 L107.1 151.0 L107.1 154.0 L107.1 157.0 L107.2 160.0 L107.2 163.0 L107.2 166.0 L107.2 169.0 L107.2 172.0 L107.3 175.0 L107.3 178.0 L107.3 181.0 L107.4 184.0 L107.4 187.0 L107.4 190.0 L107.4 193.1 L107.5 196.2 L107.5 199.2 L107.5 202.3 L107.6 205.4 L107.6 208.5 L107.6 211.5 L107.6 214.6 L107.7 217.7 L107.7 220.8 L107.7 223.8 L107.8 226.9 L107.8 230.0 L107.8 233.3 L107.9 236.6 L107.9 239.9 L108.0 243.2 L108.0 246.5 L108.3 250.2 L108.5 253.8 L108.8 257.5 L109.5 262.5 L110.2 266.3 L110.8 270.2 L111.5 274.0 L112.2 277.0 L113.0 280.0 L114.5 284.0 L116.0 288.0 L117.5 292.0 L119.0 296.0 L122.0 300.0 L126.0 302.0 L129.0 302.4 L132.0 302.8 L136.0 303.2 L140.0 303.6 L143.3 304.0 L146.7 304.4 L150.0 304.8 L153.3 305.2 L156.7 305.6 L160.0 306.0 L163.3 306.3 L166.7 306.5 L170.0 306.8 L173.3 307.1 L176.7 307.3 L180.0 307.6 L183.3 307.7 L186.7 307.9 L190.0 308.0 L193.3 308.1 L196.7 308.3 L200.0 308.4 L203.3 308.6 L206.7 308.7 L210.0 308.9 L213.3 309.1 L216.7 309.2 L220.0 309.4 L223.3 309.5 L226.7 309.6 L230.0 309.7 L233.3 309.8 L236.7 309.9 L240.0 310.0 L243.0 310.1 L246.0 310.1 L249.0 310.1 L252.0 310.2 L255.0 310.2 L258.0 310.3 L261.0 310.4 L264.0 310.4 L267.0 310.4 L270.0 310.5 L273.0 310.6 L276.0 310.6 L279.0 310.6 L282.0 310.7 L285.0 310.8 L288.0 310.8 L291.0 310.9 L294.0 310.9 L297.0 310.9 L300.0 311.0 L303.0 311.1 L306.0 311.1 L309.0 311.1 L312.0 311.2 L315.0 311.2 L318.0 311.3 L321.0 311.4 L324.0 311.4 L327.0 311.4 L330.0 311.5 L333.0 311.6 L336.0 311.6 L339.0 311.6 L342.0 311.7 L345.0 311.8 L348.0 311.8 L351.0 311.9 L354.0 311.9 L357.0 311.9 L360.0 312.0 L363.0 312.0 L366.0 312.1 L369.0 312.1 L372.0 312.2 L375.0 312.2 L378.0 312.2 L381.0 312.3 L384.0 312.3 L387.0 312.4 L390.0 312.4 L393.0 312.4 L396.0 312.5 L399.0 312.5 L402.0 312.6 L405.0 312.6 L408.0 312.6 L411.0 312.7 L414.0 312.7 L417.0 312.8 L420.0 312.8 L423.1 312.8 L426.2 312.9 L429.2 312.9 L432.3 313.0 L435.4 313.0 L438.5 313.1 L441.5 313.1 L444.6 313.2 L447.7 313.2 L450.8 313.3 L453.8 313.3 L456.9 313.4 L460.0 313.4 L463.1 313.4 L466.2 313.5 L469.2 313.5 L472.3 313.6 L475.4 313.6 L478.5 313.7 L481.5 313.7 L484.6 313.8 L487.7 313.8 L490.8 313.9 L493.8 313.9 L496.9 314.0 L500.0 314.0 L503.1 314.0 L506.2 314.1 L509.2 314.1 L512.3 314.2 L515.4 314.2 L518.5 314.3 L521.5 314.3 L524.6 314.4 L527.7 314.4 L530.8 314.5 L533.8 314.5 L536.9 314.6 L540.0 314.6 L543.1 314.6 L546.2 314.7 L549.2 314.7 L552.3 314.8 L555.4 314.8 L558.5 314.9 L561.5 314.9 L564.6 315.0 L567.7 315.0 L570.8 315.1 L573.8 315.1 L576.9 315.2 L580.0 315.2 L583.1 315.2 L586.1 315.3 L589.2 315.3 L592.2 315.3 L595.3 315.4 L598.3 315.4 L601.4 315.4 L604.4 315.5 L607.5 315.5 L610.6 315.5 L613.6 315.6 L616.7 315.6 L619.7 315.6 L622.8 315.7 L625.8 315.7 L628.9 315.8 L631.9 315.8 L635.0 315.8 L638.0 315.9 L641.1 315.9 L644.2 315.9 L647.2 316.0 L650.3 316.0 L653.3 316.0 L656.4 316.1 L659.4 316.1 L662.5 316.1 L665.5 316.2 L668.6 316.2"/>
<path class="dot" d="M104.8 258.0 L104.8 257.0 L104.8 256.0 L104.8 255.0 L104.8 254.0 L104.8 253.0 L104.9 252.0 L104.9 251.0 L104.9 250.0 L104.9 249.0 L104.9 248.0 L104.9 247.0 L104.9 246.0 L104.9 245.0 L104.9 244.0 L104.9 243.0 L104.9 242.0 L105.0 241.0 L105.0 240.0 L105.0 239.0 L105.0 238.0 L105.0 237.0 L105.0 236.0 L105.0 235.0 L105.0 234.0 L105.0 233.0 L105.0 232.0 L105.1 231.0 L105.1 230.0 L105.1 229.0 L105.1 228.0 L105.1 227.0 L105.1 226.0 L105.1 225.0 L105.1 224.0 L105.1 223.0 L105.1 222.0 L105.1 221.0 L105.2 220.0 L105.2 219.0 L105.2 218.0 L105.2 217.0 L105.2 216.0 L105.2 215.0 L105.2 214.0 L105.2 213.0 L105.2 212.0 L105.2 211.0 L105.3 210.0 L105.3 209.0 L105.3 208.0 L105.3 207.0 L105.3 206.0 L105.3 205.0 L105.3 204.0 L105.3 203.0 L105.4 202.0 L105.4 201.0 L105.4 200.0 L105.4 199.0 L105.4 198.0 L105.4 197.0 L105.4 196.0 L105.4 195.0 L105.5 194.0 L105.5 193.0 L105.5 192.0 L105.5 191.0 L105.5 190.0 L105.5 189.0 L105.5 188.0 L105.5 187.0 L105.6 186.0 L105.6 185.0 L105.6 184.0 L105.6 183.0 L105.6 182.0 L105.6 181.0 L105.6 180.0 L105.6 179.0 L105.7 178.0 L105.7 177.0 L105.7 176.0 L105.7 175.0 L105.7 174.0 L105.7 173.0 L105.7 172.0 L105.7 171.0 L105.8 170.0 L105.8 169.0 L105.8 168.0 L105.8 167.0 L105.8 166.0 L105.8 165.0 L105.8 164.0 L105.8 163.0 L105.9 162.0 L105.9 161.0 L105.9 160.0 L105.9 159.0 L105.9 158.0 L105.9 157.0 L105.9 156.0 L105.9 155.0 L106.0 154.0 L106.0 153.0 L106.0 152.0 L106.0 151.0 L106.0 150.0 L106.0 149.0 L106.0 148.0 L106.0 147.0 L106.1 146.0 L106.1 145.0 L106.1 144.0 L106.1 143.0 L106.1 142.0 L106.1 141.0 L106.1 140.0 L106.1 139.0 L106.2 138.0 L106.2 137.0 L106.2 136.0 L106.2 135.0 L106.2 134.0 L106.2 133.0 L106.2 132.0 L106.2 131.0 L106.3 130.0 L106.3 129.0 L106.3 128.0 L106.3 127.0 L106.3 126.0 L106.3 125.0 L106.3 124.0 L106.4 123.0 L106.4 122.0 L106.4 121.0 L106.4 120.0 L106.4 119.0 L106.4 118.0 L106.4 117.0 L106.4 116.0 L106.5 115.0 L106.5 114.0 L106.5 113.0 L106.5 112.0 L106.5 111.0 L106.5 110.0 L106.5 109.0 L106.5 108.0 L106.6 107.0 L106.6 106.0 L106.6 105.0 L106.6 104.0 L106.6 103.0 L106.7 102.0 L106.7 101.0 L106.8 100.0 L106.8 99.0 L106.8 98.0 L106.9 97.0 L106.9 96.0 L107.0 97.0 L107.1 98.0 L107.2 99.0 L107.2 100.0 L107.3 101.0 L107.4 102.0 L107.5 103.0 L107.6 104.0 L107.7 105.0 L107.8 106.0 L107.9 107.0 L107.9 108.0 L108.0 109.0 L108.1 110.0 L108.2 111.0 L108.3 112.0 L108.4 113.0 L108.5 114.0 L108.6 115.0 L108.7 116.0 L108.8 117.0 L108.9 118.0 L109.0 119.0 L109.1 120.0 L109.2 121.0 L109.3 122.0 L109.4 123.0 L109.5 124.0 L109.6 125.0 L109.7 126.0 L109.9 127.0 L110.0 128.0 L110.2 129.0 L110.3 130.0 L110.5 131.0 L110.7 132.0 L110.8 133.0 L111.0 134.0 L111.1 135.0 L111.3 136.0 L111.5 137.0 L111.6 138.0 L111.8 139.0 L112.0 140.0 L112.1 141.0 L112.3 142.0 L112.5 143.0 L112.6 144.0 L112.8 145.0 L113.1 146.0 L113.4 147.0 L113.7 148.0 L114.0 149.0 L114.4 150.0 L114.7 151.0 L115.0 152.0 L115.3 153.0 L115.5 154.0 L115.7 155.0 L116.0 156.0 L116.2 157.0 L116.4 158.0 L116.6 159.0 L116.9 160.0 L117.1 161.0 L117.3 162.0 L117.5 163.0 L117.7 164.0 L117.9 165.0 L118.2 166.0 L118.4 167.0 L118.6 168.0 L118.8 169.0 L119.5 170.0 L120.3 171.0 L121.0 172.0 L121.2 173.0 L121.5 174.0 L121.8 175.0 L122.0 176.0 L122.2 177.0 L122.5 178.0 L122.8 179.0 L123.0 180.0 L123.2 181.1 L123.4 182.1 L123.6 183.2 L123.9 184.3 L124.1 185.4 L124.3 186.4 L124.5 187.5 L125.3 188.2 L126.1 188.9 L126.9 189.6 L127.7 190.3 L128.5 191.0 L129.3 192.4 L130.1 193.9 L130.9 195.3 L131.7 196.7 L132.5 198.0 L133.3 199.3 L134.1 200.7 L134.9 201.9 L135.7 203.1 L136.5 204.3 L137.3 205.5 L138.1 207.0 L138.9 208.4 L139.7 209.9 L140.5 211.4 L141.3 213.1 L142.1 214.5 L142.9 215.1 L143.7 215.3 L144.5 216.0 L145.3 216.8 L146.1 216.8 L146.9 217.3 L147.7 217.3 L148.5 217.4 L149.3 217.4 L150.1 217.6 L150.9 218.4 L151.7 218.6 L152.5 218.8 L153.3 219.0 L154.1 219.4 L154.9 219.0 L155.7 219.1 L156.5 219.0 L157.3 219.0 L158.1 219.1 L158.9 219.0 L159.7 219.1 L160.5 218.6 L161.3 218.9 L162.1 218.9 L162.9 218.9 L163.7 218.9 L164.5 219.5 L165.3 219.9 L166.1 221.0 L166.9 221.4 L167.7 222.3 L168.5 223.2 L169.3 223.8 L170.1 224.2 L170.9 224.9 L171.7 225.6 L172.5 226.2 L173.3 226.6 L174.1 226.8 L174.9 226.7 L175.7 226.9 L176.5 227.4 L177.3 227.1 L178.1 227.3 L178.9 227.1 L179.7 227.3 L180.5 227.5 L181.3 227.7 L182.1 227.8 L182.9 227.8 L183.7 228.4 L184.5 228.3 L185.3 228.2 L186.1 228.3 L186.9 228.9 L187.7 229.0 L188.5 229.1 L189.3 229.0 L190.1 228.9 L190.9 228.9 L191.7 229.2 L192.5 229.3 L193.3 229.9 L194.1 230.1 L194.9 230.1 L195.7 230.0 L196.5 230.4 L197.3 230.7 L198.1 231.4 L198.9 231.2 L199.7 231.8 L200.5 231.9 L201.3 231.9 L202.1 232.3 L202.9 232.0 L203.7 232.3 L204.5 232.2 L205.3 232.2 L206.1 232.3 L206.9 232.6 L207.7 232.5 L208.5 232.6 L209.3 233.2 L210.1 232.9 L210.9 233.3 L211.7 233.3 L212.5 233.4 L213.3 233.5 L214.1 233.8 L214.9 233.8 L215.7 233.8 L216.5 233.8 L217.3 234.0 L218.1 234.1 L218.9 234.1 L219.7 234.2 L220.5 234.1 L221.3 234.6 L222.1 234.5 L222.9 234.3 L223.7 234.5 L224.5 235.1 L225.3 234.8 L226.1 235.0 L226.9 235.3 L227.7 235.5 L228.5 235.3 L229.3 235.4 L230.1 235.6 L230.9 235.4 L231.7 236.1 L232.5 235.7 L233.3 236.3 L234.1 236.0 L234.9 236.1 L235.7 236.6 L236.5 236.7 L237.3 236.5 L238.1 236.8 L238.9 236.8 L239.7 237.1 L240.5 236.8 L241.3 237.3 L242.1 237.4 L242.9 237.3 L243.7 237.5 L244.5 237.5 L245.3 237.2 L246.1 237.6 L246.9 237.6 L247.7 237.5 L248.5 237.3 L249.3 237.6 L250.1 237.9 L250.9 237.6 L251.7 237.9 L252.5 238.2 L253.3 238.1 L254.1 237.9 L254.9 238.4 L255.7 238.3 L256.5 238.7 L257.3 238.7 L258.1 238.6 L258.9 239.1 L259.7 239.0 L260.5 239.0 L261.3 239.4 L262.1 239.5 L262.9 239.6 L263.7 239.7 L264.5 239.7 L265.3 239.9 L266.1 239.9 L266.9 240.0 L267.7 240.4 L268.5 240.1 L269.3 240.1 L270.1 240.5 L270.9 240.5 L271.7 240.6 L272.5 240.8 L273.3 240.6 L274.1 240.7 L274.9 240.7 L275.7 241.3 L276.5 241.4 L277.3 241.4 L278.1 241.1 L278.9 241.8 L279.7 241.8 L280.5 241.6 L281.3 241.4 L282.1 242.0 L282.9 241.9 L283.7 242.0 L284.5 241.7 L285.3 242.2 L286.1 241.8 L286.9 242.1 L287.7 242.0 L288.5 242.2 L289.3 242.6 L290.1 242.6 L290.9 242.7 L291.7 242.5 L292.5 242.6 L293.3 242.9 L294.1 242.6 L294.9 242.9 L295.7 243.4 L296.5 243.3 L297.3 243.5 L298.1 243.3 L298.9 243.6 L299.7 243.7 L300.5 243.8 L301.3 243.7 L302.1 243.7 L302.9 243.7 L303.7 244.4 L304.5 244.5 L305.3 244.2 L306.1 244.6 L306.9 244.5 L307.7 244.8 L308.5 245.0 L309.3 244.8 L310.1 245.1 L310.9 245.0 L311.7 245.2 L312.5 245.0 L313.3 245.3 L314.1 245.4 L314.9 245.8 L315.7 245.5 L316.5 245.9 L317.3 245.6 L318.1 246.3 L318.9 245.9 L319.7 245.9 L320.5 246.1 L321.3 246.6 L322.1 246.6 L322.9 246.8 L323.7 246.6 L324.5 246.5 L325.3 246.7 L326.1 246.9 L326.9 247.3 L327.7 246.9 L328.5 247.1 L329.3 247.5 L330.1 247.2 L330.9 247.8 L331.7 247.5 L332.5 247.7 L333.3 247.9 L334.1 248.1 L334.9 247.7 L335.7 248.2 L336.5 247.9 L337.3 248.3 L338.1 248.0 L338.9 248.5 L339.7 248.3 L340.5 248.4 L341.3 248.4 L342.1 248.6 L342.9 248.7 L343.7 249.2 L344.5 249.1 L345.3 249.0 L346.1 249.5 L346.9 249.1 L347.7 249.2 L348.5 249.7 L349.3 249.8 L350.1 249.7 L350.9 250.0 L351.7 249.5 L352.5 250.1 L353.3 250.1 L354.1 250.1 L354.9 250.3 L355.7 249.9 L356.5 250.1 L357.3 250.1 L358.1 250.4 L358.9 250.5 L359.7 250.6 L360.5 250.6 L361.3 250.9 L362.1 251.0 L362.9 251.0 L363.7 250.7 L364.5 250.8 L365.3 251.0 L366.1 251.1 L366.9 251.3 L367.7 251.2 L368.5 251.5 L369.3 251.4 L370.1 251.5 L370.9 251.8 L371.7 252.0 L372.5 251.7 L373.3 251.8 L374.1 252.3 L374.9 251.9 L375.7 251.9 L376.5 252.1 L377.3 252.5 L378.1 252.5 L378.9 252.8 L379.7 252.6 L380.5 252.4 L381.3 252.6 L382.1 252.9 L382.9 252.8 L383.7 252.8 L384.5 253.0 L385.3 253.1 L386.1 253.1 L386.9 253.3 L387.7 253.2 L388.5 253.2 L389.3 253.7 L390.1 253.8 L390.9 253.7 L391.7 253.6 L392.5 253.8 L393.3 254.0 L394.1 254.3 L394.9 254.2 L395.7 254.6 L396.5 254.4 L397.3 254.3 L398.1 254.6 L398.9 254.7 L399.7 254.8 L400.5 255.0 L401.3 254.7 L402.1 255.0 L402.9 255.3 L403.7 255.0 L404.5 255.1 L405.3 255.2 L406.1 255.4 L406.9 255.6 L407.7 255.6 L408.5 255.9 L409.3 255.7 L410.1 255.9 L410.9 256.2 L411.7 256.2 L412.5 256.6 L413.3 256.7 L414.1 256.3 L414.9 256.5 L415.7 256.7 L416.5 256.8 L417.3 256.8 L418.1 257.2 L418.9 256.9 L419.7 257.1 L420.5 257.0 L421.3 257.6 L422.1 257.5 L422.9 257.8 L423.7 257.4 L424.5 257.9 L425.3 257.9 L426.1 257.7 L426.9 258.2 L427.7 258.3 L428.5 258.0 L429.3 258.6 L430.1 258.6 L430.9 258.6 L431.7 258.6 L432.5 258.6 L433.3 258.6 L434.1 258.9 L434.9 259.3 L435.7 259.0 L436.5 259.2 L437.3 259.2 L438.1 259.6 L438.9 259.8 L439.7 259.9 L440.5 259.6 L441.3 259.8 L442.1 259.7 L442.9 260.1 L443.7 260.4 L444.5 260.5 L445.3 260.1 L446.1 260.5 L446.9 260.3 L447.7 260.7 L448.5 261.1 L449.3 260.8 L450.1 261.2 L450.9 261.4 L451.7 261.4 L452.5 261.1 L453.3 261.6 L454.1 261.7 L454.9 261.8 L455.7 261.3 L456.5 261.4 L457.3 261.6 L458.1 261.8 L458.9 261.8 L459.7 261.7 L460.5 262.2 L461.3 262.3 L462.1 262.4 L462.9 262.4 L463.7 262.6 L464.5 262.8 L465.3 262.5 L466.1 262.9 L466.9 262.8 L467.7 262.9 L468.5 263.4 L469.3 263.3 L470.1 263.4 L470.9 263.5 L471.7 263.8 L472.5 263.6 L473.3 264.1 L474.1 263.9 L474.9 264.5 L475.7 264.1 L476.5 264.6 L477.3 264.6 L478.1 264.7 L478.9 264.7 L479.7 264.9 L480.5 265.2 L481.3 265.1 L482.1 265.2 L482.9 265.1 L483.7 265.4 L484.5 265.3 L485.3 265.5 L486.1 265.7 L486.9 265.7 L487.7 265.8 L488.5 265.9 L489.3 265.7 L490.1 266.3 L490.9 266.2 L491.7 266.3 L492.5 266.5 L493.3 266.3 L494.1 266.3 L494.9 266.4 L495.7 266.5 L496.5 266.5 L497.3 266.6 L498.1 266.6 L498.9 266.9 L499.7 266.8 L500.5 267.0 L501.3 267.2 L502.1 267.1 L502.9 267.5 L503.7 267.5 L504.5 267.3 L505.3 267.6 L506.1 267.3 L506.9 267.3 L507.7 267.9 L508.5 267.4 L509.3 267.4 L510.1 268.0 L510.9 267.6 L511.7 268.0 L512.5 268.0 L513.3 267.9 L514.1 268.0 L514.9 268.5 L515.7 268.2 L516.5 268.2 L517.3 268.3 L518.1 268.6 L518.9 268.4 L519.7 268.3 L520.5 268.8 L521.3 268.4 L522.1 268.5 L522.9 268.5 L523.7 269.2 L524.5 268.9 L525.3 269.1 L526.1 269.1 L526.9 269.4 L527.7 269.0 L528.5 269.1 L529.3 269.4 L530.1 269.0 L530.9 269.3 L531.7 269.6 L532.5 269.5 L533.3 269.5 L534.1 269.8 L534.9 269.6 L535.7 269.8 L536.5 269.7 L537.3 269.6 L538.1 269.8 L538.9 269.7 L539.7 269.7 L540.5 269.9 L541.3 269.9 L542.1 270.1 L542.9 270.3 L543.7 270.4 L544.5 270.5 L545.3 270.3 L546.1 270.5 L546.9 270.7 L547.7 270.5 L548.5 270.8 L549.3 270.4 L550.1 271.0 L550.9 271.0 L551.7 271.1 L552.5 271.1 L553.3 271.1 L554.1 270.9 L554.9 271.2 L555.7 271.3 L556.5 271.2 L557.3 271.3 L558.1 271.5 L558.9 271.2 L559.7 271.3 L560.5 271.2 L561.3 271.7 L562.1 271.6 L562.9 271.7 L563.7 271.5 L564.5 271.6 L565.3 271.8 L566.1 272.1 L566.9 271.9 L567.7 272.0 L568.5 272.0 L569.3 272.4 L570.1 272.0 L570.9 272.5 L571.7 272.0 L572.5 272.5 L573.3 272.6 L574.1 272.5 L574.9 272.7 L575.7 272.5 L576.5 272.5 L577.3 272.7 L578.1 272.7 L578.9 273.0 L579.7 273.0 L580.5 273.1 L581.3 273.4 L582.1 273.3 L582.9 273.4 L583.7 273.5 L584.5 273.6 L585.3 273.5 L586.1 273.3 L586.9 273.5 L587.7 273.7 L588.5 273.8 L589.3 273.9 L590.1 273.9 L590.9 273.9 L591.7 273.7 L592.5 273.9 L593.3 273.7 L594.1 274.1 L594.9 273.8 L595.7 273.8 L596.5 274.4 L597.3 274.4 L598.1 274.1 L598.9 274.0 L599.7 274.6 L600.5 274.6 L601.3 274.3 L602.1 274.8 L602.9 274.8 L603.7 274.7 L604.5 274.6 L605.3 274.6 L606.1 274.6 L606.9 274.9 L607.7 275.1 L608.5 275.2 L609.3 275.0 L610.1 275.4 L610.9 275.0 L611.7 275.4 L612.5 275.2 L613.3 275.2 L614.1 275.3 L614.9 275.8 L615.7 275.5 L616.5 275.4 L617.3 275.8 L618.1 275.8 L618.9 276.0 L619.7 276.0 L620.5 276.1 L621.3 276.3 L622.1 276.0 L622.9 276.2 L623.7 276.0 L624.5 276.1 L625.3 276.0 L626.1 276.5 L626.9 276.2 L627.7 276.5 L628.5 276.7 L629.3 276.4 L630.1 276.3 L630.9 276.4 L631.7 276.6 L632.5 276.6 L633.3 276.4 L634.1 276.9 L634.9 276.8 L635.7 277.0 L636.5 277.0 L637.3 277.0 L638.1 277.1 L638.9 277.1 L639.7 276.9 L640.5 277.2 L641.3 277.4 L642.1 276.9 L642.9 277.0 L643.7 277.1 L644.5 277.3 L645.3 277.6 L646.1 277.5 L646.9 277.7 L647.7 277.5 L648.5 277.7 L649.3 277.6 L650.1 277.9 L650.9 277.7 L651.7 277.6 L652.5 277.9 L653.3 278.1 L654.1 278.3 L654.9 278.0 L655.7 278.5 L656.5 278.5 L657.3 278.1 L658.1 278.6 L658.9 278.7 L659.7 278.8 L660.5 278.7 L661.3 278.6 L662.1 278.7 L662.9 278.9 L663.7 278.9 L664.5 278.7 L665.3 279.2 L666.1 279.0 L666.9 278.8 L667.7 279.0 L668.5 278.9 L668.6 279.2"/>
</g>
<path d="M579.0 338 H642.6" class="dot"/>
<path d="M579.0 354.5 H642.0" class="ora" style="stroke-dasharray:8.1 7.7"/>
<path d="M579.0 371.1 H642.0" class="blu"/>
<path d="M579.0 387.6 H642.0" class="red"/>
<path d="M579.0 404.3 H642.6" class="ddd"/>
<g opacity="0.999">
<text x="386.9" y="23.3" font-size="25" text-anchor="middle">Enstrophy Growth with Thermal Relaxation</text>
<text x="99.34" y="458.30" font-size="20" class="nk">0</text>
<path class="g1" transform="translate(201.00,458.30) scale(0.00977,-0.00977)" d="M763 0H583V1147Q518 1085 412.5 1023Q307 961 223 930V1104Q374 1175 487 1276Q600 1377 647 1472H763Z"/>
<text x="212.12" y="458.30" font-size="20" class="nk">00</text>
<text x="313.78" y="458.30" font-size="20" class="nk">200</text>
<text x="426.56" y="458.30" font-size="20" class="nk">300</text>
<text x="539.34" y="458.30" font-size="20" class="nk">400</text>
<text x="652.12" y="458.30" font-size="20" class="nk">500</text>
<path class="g1" transform="translate(63.40,380.44) scale(0.00977,-0.00977)" d="M763 0H583V1147Q518 1085 412.5 1023Q307 961 223 930V1104Q374 1175 487 1276Q600 1377 647 1472H763Z"/>
<text x="74.52" y="380.44" font-size="20" class="nk">0</text>
<text x="85.60" y="371.34" font-size="12.4" class="nk">−5</text>
<path class="g1" transform="translate(63.40,295.38) scale(0.00977,-0.00977)" d="M763 0H583V1147Q518 1085 412.5 1023Q307 961 223 930V1104Q374 1175 487 1276Q600 1377 647 1472H763Z"/>
<text x="74.52" y="295.38" font-size="20" class="nk">0</text>
<text x="85.60" y="286.28" font-size="12.4" class="nk">−4</text>
<path class="g1" transform="translate(63.40,210.32) scale(0.00977,-0.00977)" d="M763 0H583V1147Q518 1085 412.5 1023Q307 961 223 930V1104Q374 1175 487 1276Q600 1377 647 1472H763Z"/>
<text x="74.52" y="210.32" font-size="20" class="nk">0</text>
<text x="85.60" y="201.22" font-size="12.4" class="nk">−3</text>
<path class="g1" transform="translate(63.40,125.26) scale(0.00977,-0.00977)" d="M763 0H583V1147Q518 1085 412.5 1023Q307 961 223 930V1104Q374 1175 487 1276Q600 1377 647 1472H763Z"/>
<text x="74.52" y="125.26" font-size="20" class="nk">0</text>
<text x="85.60" y="116.16" font-size="12.4" class="nk">−2</text>
<path class="g1" transform="translate(63.40,45.00) scale(0.00977,-0.00977)" d="M763 0H583V1147Q518 1085 412.5 1023Q307 961 223 930V1104Q374 1175 487 1276Q600 1377 647 1472H763Z"/>
<text x="74.52" y="45.00" font-size="20" class="nk">0</text>
<text x="85.60" y="35.90" font-size="12.4" class="nk">−</text>
<path class="g1" transform="translate(92.84,35.90) scale(0.00605,-0.00605)" d="M763 0H583V1147Q518 1085 412.5 1023Q307 961 223 930V1104Q374 1175 487 1276Q600 1377 647 1472H763Z"/>
<text x="568.8" y="341.6" font-size="20" text-anchor="end">adiabatic</text>
<text x="453.95" y="358.30" font-size="20" class="ser">τ</text>
<text x="461.99" y="358.30" font-size="20" class="nk">=</text>
<path class="g1" transform="translate(473.67,358.30) scale(0.00977,-0.00977)" d="M763 0H583V1147Q518 1085 412.5 1023Q307 961 223 930V1104Q374 1175 487 1276Q600 1377 647 1472H763Z"/>
<text x="484.79" y="358.30" font-size="20" class="nk">00 orbits</text>
<text x="464.47" y="375.00" font-size="20" class="ser">τ</text>
<text x="472.51" y="375.00" font-size="20" class="nk">=</text>
<path class="g1" transform="translate(484.19,375.00) scale(0.00977,-0.00977)" d="M763 0H583V1147Q518 1085 412.5 1023Q307 961 223 930V1104Q374 1175 487 1276Q600 1377 647 1472H763Z"/>
<text x="495.31" y="375.00" font-size="20" class="nk">0 orbits</text>
<text x="487.40" y="391.70" font-size="20" class="ser">τ</text>
<text x="495.43" y="391.70" font-size="20" class="nk">=</text>
<path class="g1" transform="translate(507.11,391.70) scale(0.00977,-0.00977)" d="M763 0H583V1147Q518 1085 412.5 1023Q307 961 223 930V1104Q374 1175 487 1276Q600 1377 647 1472H763Z"/>
<text x="523.79" y="391.70" font-size="20" class="nk">orbit</text>
<text x="471.32" y="408.40" font-size="20" class="ser">τ</text>
<text x="479.35" y="408.40" font-size="20" class="nk">=0.</text>
<path class="g1" transform="translate(507.71,408.40) scale(0.00977,-0.00977)" d="M763 0H583V1147Q518 1085 412.5 1023Q307 961 223 930V1104Q374 1175 487 1276Q600 1377 647 1472H763Z"/>
<text x="524.39" y="408.40" font-size="20" class="nk">orbit</text>
<text y="479.9" font-size="20" class="ser" font-style="italic"><tspan x="350.3">t/(2</tspan></text>
<text transform="translate(377.8,479.9) scale(1.04,1)" font-size="20" class="ser">π</text>
<text transform="translate(388.5,479.9) scale(1.1,1)" font-size="20" class="ser">Ω</text>
<text x="404.6" y="484.3" font-size="12.4">0</text>
<text x="404.40" y="472.30" font-size="12.4" class="nk">−</text>
<path class="g1" transform="translate(411.64,472.30) scale(0.00605,-0.00605)" d="M763 0H583V1147Q518 1085 412.5 1023Q307 961 223 930V1104Q374 1175 487 1276Q600 1377 647 1472H763Z"/>
<text x="417.5" y="479.9" font-size="20" class="ser" font-style="italic">)</text>
<g transform="translate(48,244.6) rotate(-90)"><text transform="scale(1.05,1.15)" font-size="20" class="ser">ω</text><text x="13.6" y="-10" font-size="12.4">2</text><text x="13.8" y="4" font-size="12.4">z</text></g>
</g>
</svg>
</body>
</html>
